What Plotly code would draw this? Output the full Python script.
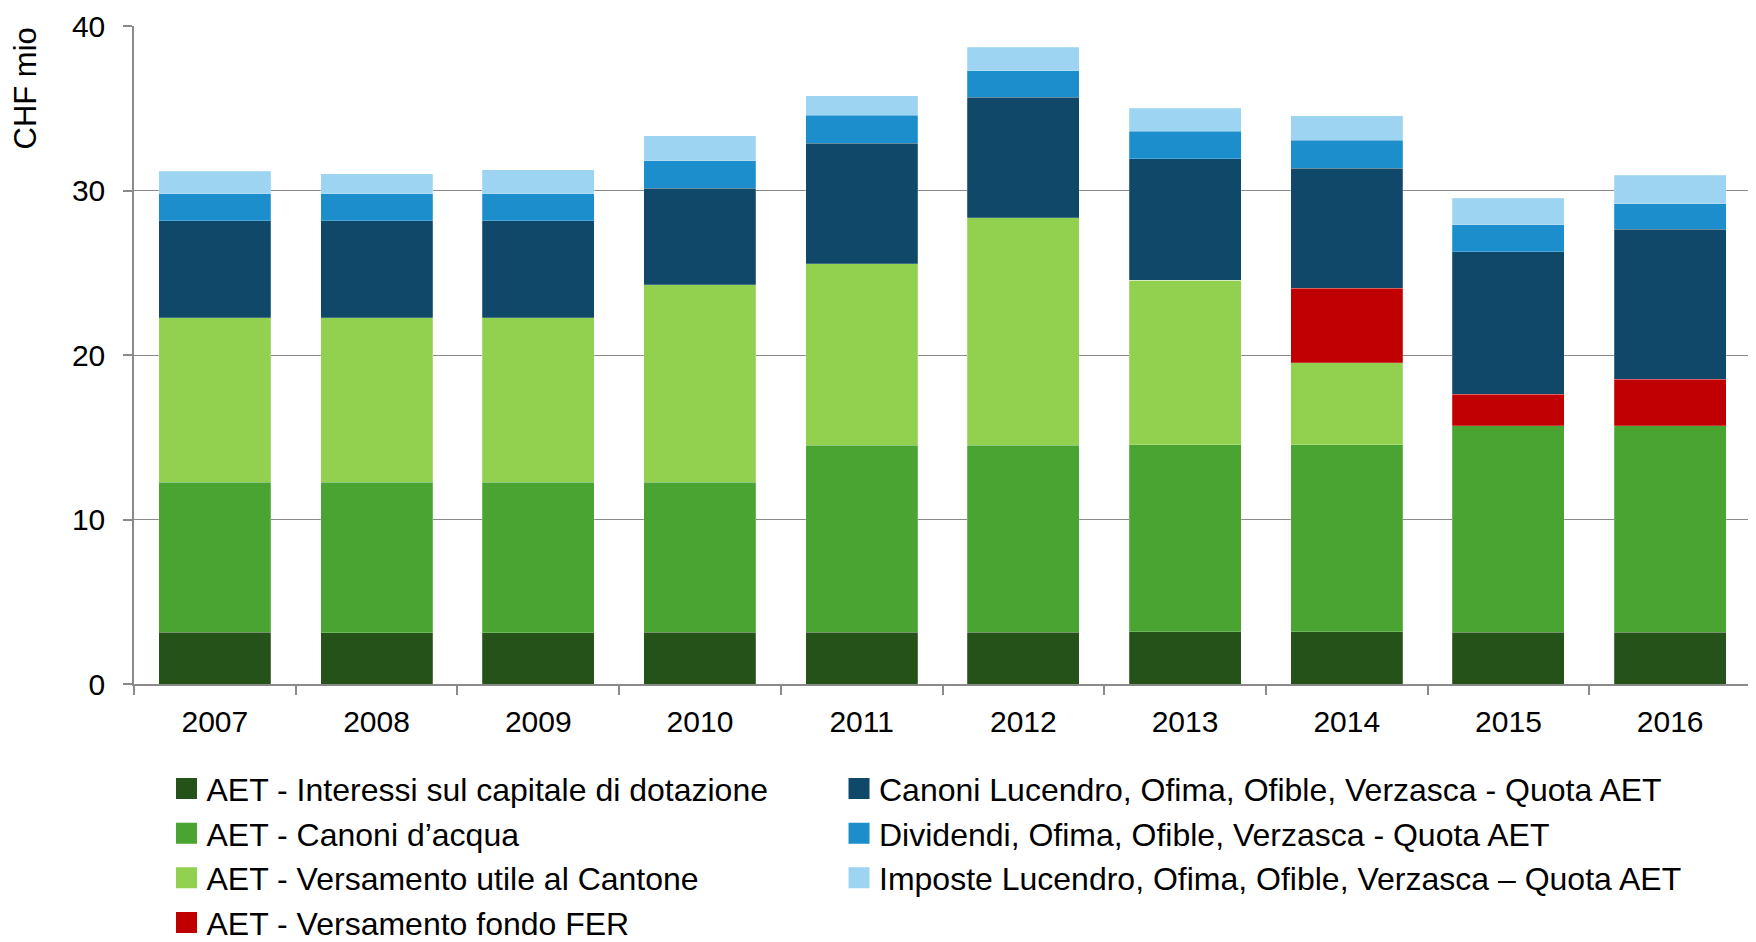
import plotly.graph_objects as go

years = ["2007", "2008", "2009", "2010", "2011", "2012", "2013", "2014", "2015", "2016"]

interessi = [3.15, 3.12, 3.12, 3.15, 3.15, 3.15, 3.17, 3.17, 3.15, 3.15]
canoni_acqua = [9.1, 9.14, 9.14, 9.11, 11.36, 11.36, 11.36, 11.36, 12.55, 12.55]
versamento_utile = [10.0, 10.0, 10.0, 12.0, 11.03, 13.84, 10.02, 5.0, 0.0, 0.0]
fondo_fer = [0.0, 0.0, 0.0, 0.0, 0.0, 0.0, 0.0, 4.52, 1.92, 2.83]
canoni_lucendro = [5.9, 5.9, 5.9, 5.89, 7.33, 7.33, 7.37, 7.30, 8.66, 9.1]
dividendi = [1.65, 1.65, 1.65, 1.65, 1.70, 1.60, 1.68, 1.71, 1.63, 1.55]
imposte = [1.38, 1.21, 1.46, 1.52, 1.19, 1.42, 1.41, 1.48, 1.61, 1.76]

series = [
    ("AET - Interessi sul capitale di dotazione", interessi, "#255219", "legend"),
    ("AET - Canoni d\u2019acqua", canoni_acqua, "#49A431", "legend"),
    ("AET - Versamento utile al Cantone", versamento_utile, "#92D050", "legend"),
    ("AET - Versamento fondo FER", fondo_fer, "#C00000", "legend"),
    ("Canoni Lucendro, Ofima, Ofible, Verzasca - Quota AET", canoni_lucendro, "#0F4868", "legend2"),
    ("Dividendi, Ofima, Ofible, Verzasca - Quota AET", dividendi, "#1C8ECB", "legend2"),
    ("Imposte Lucendro, Ofima, Ofible, Verzasca \u2013 Quota AET", imposte, "#9DD4F2", "legend2"),
]

FONT = "Liberation Sans, Arial, sans-serif"
GRID = "#8a8a8a"

fig = go.Figure()
for name, vals, color, leg in series:
    fig.add_trace(go.Bar(
        x=years, y=vals, name=name, legend=leg, legendgroup=name, showlegend=False,
        marker=dict(color=color, line=dict(color="rgba(255,255,255,0.35)", width=0.6)),
    ))
# legend entries (larger square swatches)
for name, vals, color, leg in series:
    fig.add_trace(go.Scatter(
        x=[None], y=[None], mode="markers", name=name, legend=leg, legendgroup=name,
        showlegend=True, hoverinfo="skip",
        marker=dict(symbol="square", size=16, color=color, line=dict(color=color, width=5)),
    ))

# page body adds an 8px offset, so the figure is 8px smaller on each axis
fig.update_layout(
    width=1748, height=934,
    barmode="stack", bargap=0.307,
    plot_bgcolor="white", paper_bgcolor="white",
    margin=dict(l=126, r=5, t=18, b=258, autoexpand=False),
    font=dict(family=FONT, size=30, color="black"),
    showlegend=True,
    legend=dict(x=0.0201, y=-0.1175, xanchor="left", yanchor="top", itemsizing="trace",
                traceorder="normal", font=dict(size=32), tracegroupgap=2,
                bgcolor="rgba(0,0,0,0)"),
    legend2=dict(x=0.4360, y=-0.1175, xanchor="left", yanchor="top", itemsizing="trace",
                 traceorder="normal", font=dict(size=32), tracegroupgap=2,
                 bgcolor="rgba(0,0,0,0)"),
    annotations=[dict(text="CHF mio", textangle=-90, xref="paper", yref="paper",
                      x=-0.0668, y=0.905, xanchor="center", yanchor="middle",
                      showarrow=False, font=dict(size=31, family=FONT))],
)
fig.update_xaxes(
    type="category", showline=True, linecolor=GRID, linewidth=1.5, automargin=False,
    ticks="outside", tickson="boundaries", ticklen=9, tickcolor=GRID, tickwidth=1.5,
    ticklabelstandoff=10, tickfont=dict(size=30), showgrid=False,
)
fig.update_yaxes(
    range=[0, 40], dtick=10, showline=True, linecolor=GRID, linewidth=1.5, automargin=False,
    ticks="outside", ticklen=9, tickcolor=GRID, tickwidth=1.5, ticklabeloverflow="allow",
    showgrid=True, gridcolor=GRID, gridwidth=1.4, zeroline=False,
    ticklabelstandoff=12, tickfont=dict(size=30),
)

fig.write_html("out.html")
